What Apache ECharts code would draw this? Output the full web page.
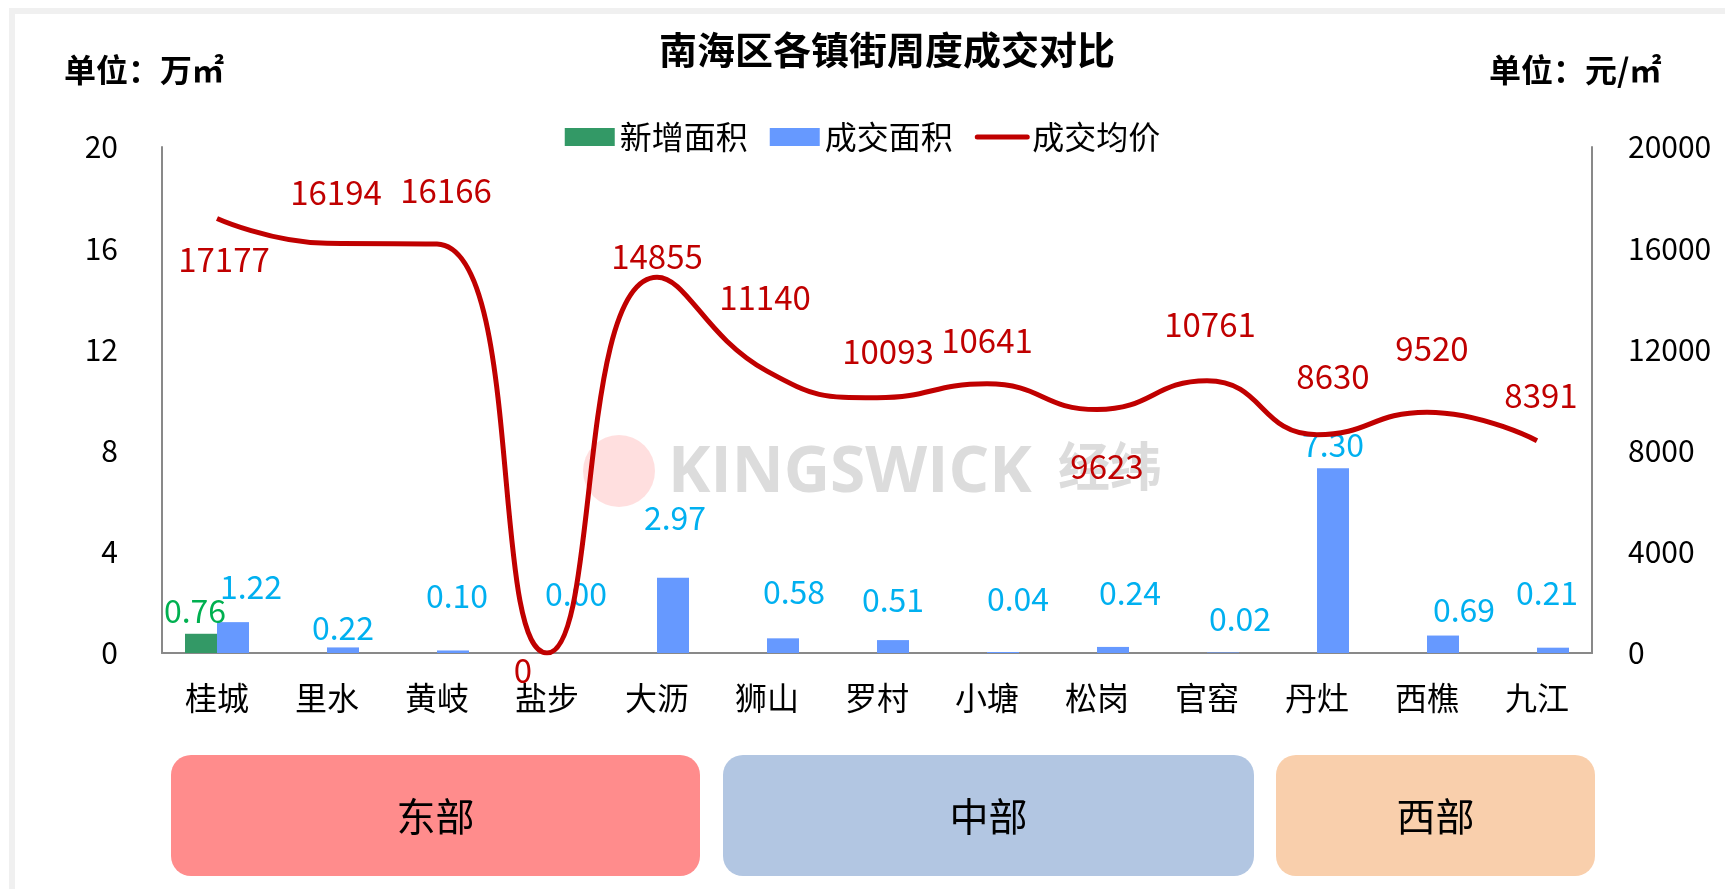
<!DOCTYPE html>
<html>
<head>
<meta charset="utf-8">
<script src="https://cdn.jsdelivr.net/npm/echarts@6/dist/echarts.min.js"></script>
<style>
html,body{margin:0;padding:0;background:#fff;}
#main{width:1725px;height:889px;}
</style>
</head>
<body>
<div id="main"></div>
<script>
// 镇街
var towns = ['桂城', '里水', '黄岐', '盐步', '大沥', '狮山', '罗村', '小塘', '松岗', '官窑', '丹灶', '西樵', '九江'];
// 新增面积（万㎡）
var newArea = [0.76, null, null, null, null, null, null, null, null, null, null, null, null];
// 成交面积（万㎡）
var dealArea = [1.22, 0.22, 0.10, 0.00, 2.97, 0.58, 0.51, 0.04, 0.24, 0.02, 7.30, 0.69, 0.21];
// 成交均价（元/㎡）
var dealPrice = [17177, 16194, 16166, 0, 14855, 11140, 10093, 10641, 9623, 10761, 8630, 9520, 8391];
// 区域分组
var regions = ['东部', '中部', '西部'];
var regionStart = [0, 5, 10];
var regionEnd = [4, 9, 12];
var regionColors = ['#ff8c8c', '#b2c6e2', '#f9cfac'];

var FONT = '"Noto Sans CJK SC", "Microsoft YaHei", sans-serif';

// 标签偏移、区域框内缩（仅样式）
var barLabelShift = [[18, -19], [0, -4], [4, -39], [13, -43], [2, -44], [11, -30], [0, -24], [15, -37], [17, -38], [17, -18], [0, -7], [21, -10], [-6, -39]];
var priceLabelShift = [[7, 41], [9, -51], [9, -54], [-24, 17], [0, -21], [-2, -74], [11, -46], [0, -43], [10, 57], [3, -56], [16, -58], [5, -64], [4, -45]];
var regionInset = [[9, 12], [11, 8], [14, -3]];

function barData(arr) {
	return arr.map(function (v, i) {
		return {
			value : v,
			label : { offset : barLabelShift[i] }
		};
	});
}

function priceData(arr) {
	return arr.map(function (v, i) {
		return {
			value : v,
			label : { offset : priceLabelShift[i] }
		};
	});
}

var myChart = echarts.init(document.getElementById('main'));

var option = {
	animation : false,
	backgroundColor : '#fff',
	textStyle : { fontFamily : FONT },
	title : {
		text : '南海区各镇街周度成交对比',
		left : 882,
		top : 26,
		textAlign : 'center',
		textStyle : { fontSize : 38, fontWeight : 'bold', color : '#000', fontFamily : FONT }
	},
	legend : {
		top : 116,
		left : 'center',
		itemGap : 22,
		itemWidth : 50,
		itemHeight : 18,
		textStyle : { fontSize : 32, color : '#000', fontFamily : FONT },
		data : [
			{ name : '新增面积', icon : 'rect' },
			{ name : '成交面积', icon : 'rect' },
			{ name : '成交均价', itemStyle : { opacity : 0 }, lineStyle : { width : 5, cap : 'round' } }
		]
	},
	grid : {
		left : 162,
		right : 133,
		top : 147,
		bottom : 236
	},
	xAxis : [ {
		type : 'category',
		data : towns,
		axisLine : { lineStyle : { color : '#898989', width : 2 } },
		axisTick : { show : false },
		axisLabel : { fontSize : 32, color : '#000', margin : 29, fontFamily : FONT }
	} ],
	yAxis : [ {
		type : 'value',
		min : 0,
		max : 20,
		interval : 4,
		axisLine : { show : true, lineStyle : { color : '#898989', width : 2 } },
		axisTick : { show : false },
		splitLine : { show : false },
		axisLabel : { fontSize : 30, color : '#000', margin : 44, fontFamily : FONT }
	}, {
		type : 'value',
		min : 0,
		max : 20000,
		interval : 4000,
		position : 'right',
		axisLine : { show : true, lineStyle : { color : '#898989', width : 2 } },
		axisTick : { show : false },
		splitLine : { show : false },
		axisLabel : {
			fontSize : 30, color : '#000', margin : 36, fontFamily : FONT,
			formatter : function (v) { return String(v); }
		}
	} ],
	series : [ {
		name : '新增面积',
		type : 'bar',
		barWidth : 32,
		barGap : '0%',
		itemStyle : { color : '#339966' },
		label : {
			show : true,
			position : 'top',
			distance : 0,
			color : '#00b050',
			fontSize : 32,
			fontFamily : FONT,
			offset : [-6, -7],
			formatter : function (p) { return p.value == null ? '' : p.value.toFixed(2); }
		},
		data : newArea
	}, {
		name : '成交面积',
		type : 'bar',
		barWidth : 32,
		barGap : '0%',
		itemStyle : { color : '#6699ff' },
		label : {
			show : true,
			position : 'top',
			distance : 0,
			color : '#00b0f0',
			fontSize : 32,
			fontFamily : FONT,
			formatter : function (p) { return p.value.toFixed(2); }
		},
		data : barData(dealArea)
	}, {
		name : '成交均价',
		type : 'line',
		yAxisIndex : 1,
		smooth : 0.5,
		symbol : 'circle',
		symbolSize : 0.1,
		lineStyle : { color : '#c00000', width : 5 },
		itemStyle : { color : '#c00000' },
		label : {
			show : true,
			position : 'inside',
			color : '#c00000',
			fontSize : 33,
			fontFamily : FONT
		},
		z : 5,
		data : priceData(dealPrice)
	} ]
};

myChart.setOption(option);

// 背景框、水印、单位、区域分组
function buildGraphic() {
	var c0 = myChart.convertToPixel({ xAxisIndex : 0 }, 0);
	var c1 = myChart.convertToPixel({ xAxisIndex : 0 }, 1);
	var band = c1 - c0;
	var items = [
		{
			type : 'rect',
			shape : { x : 12, y : 11, width : 1760, height : 940 },
			style : { fill : null, stroke : '#f0f0f0', lineWidth : 6 },
			silent : true
		},
		{
			type : 'circle',
			shape : { cx : 619, cy : 471, r : 36 },
			style : { fill : 'rgba(255,140,140,0.28)' },
			z : 0, silent : true
		},
		{
			type : 'text',
			left : 668, top : 442,
			style : { text : 'KINGSWICK', font : 'bold 64px "Open Sans", sans-serif', fill : '#dcdcdc' },
			z : 0, silent : true
		},
		{
			type : 'text',
			left : 1058, top : 440,
			style : { text : '经纬', font : 'bold 52px ' + FONT, fill : '#dcdcdc' },
			z : 0, silent : true
		},
		{
			type : 'text',
			left : 64, top : 54,
			style : { text : '单位：万㎡', font : 'bold 32px ' + FONT, fill : '#000' }
		},
		{
			type : 'text',
			left : 1489, top : 54,
			style : { text : '单位：元/㎡', font : 'bold 32px ' + FONT, fill : '#000' }
		}
	];
	for (var i = 0; i < regions.length; i++) {
		var x0 = myChart.convertToPixel({ xAxisIndex : 0 }, regionStart[i]) - band / 2 + regionInset[i][0];
		var x1 = myChart.convertToPixel({ xAxisIndex : 0 }, regionEnd[i]) + band / 2 - regionInset[i][1];
		items.push({
			type : 'rect',
			shape : { x : x0, y : 755, width : x1 - x0, height : 121, r : 20 },
			style : { fill : regionColors[i] }
		});
		items.push({
			type : 'text',
			x : (x0 + x1) / 2, y : 816,
			style : { text : regions[i], font : '39px ' + FONT, fill : '#000', textAlign : 'center', textVerticalAlign : 'middle' }
		});
	}
	myChart.setOption({ graphic : items });
}
buildGraphic();
</script>
</body>
</html>
